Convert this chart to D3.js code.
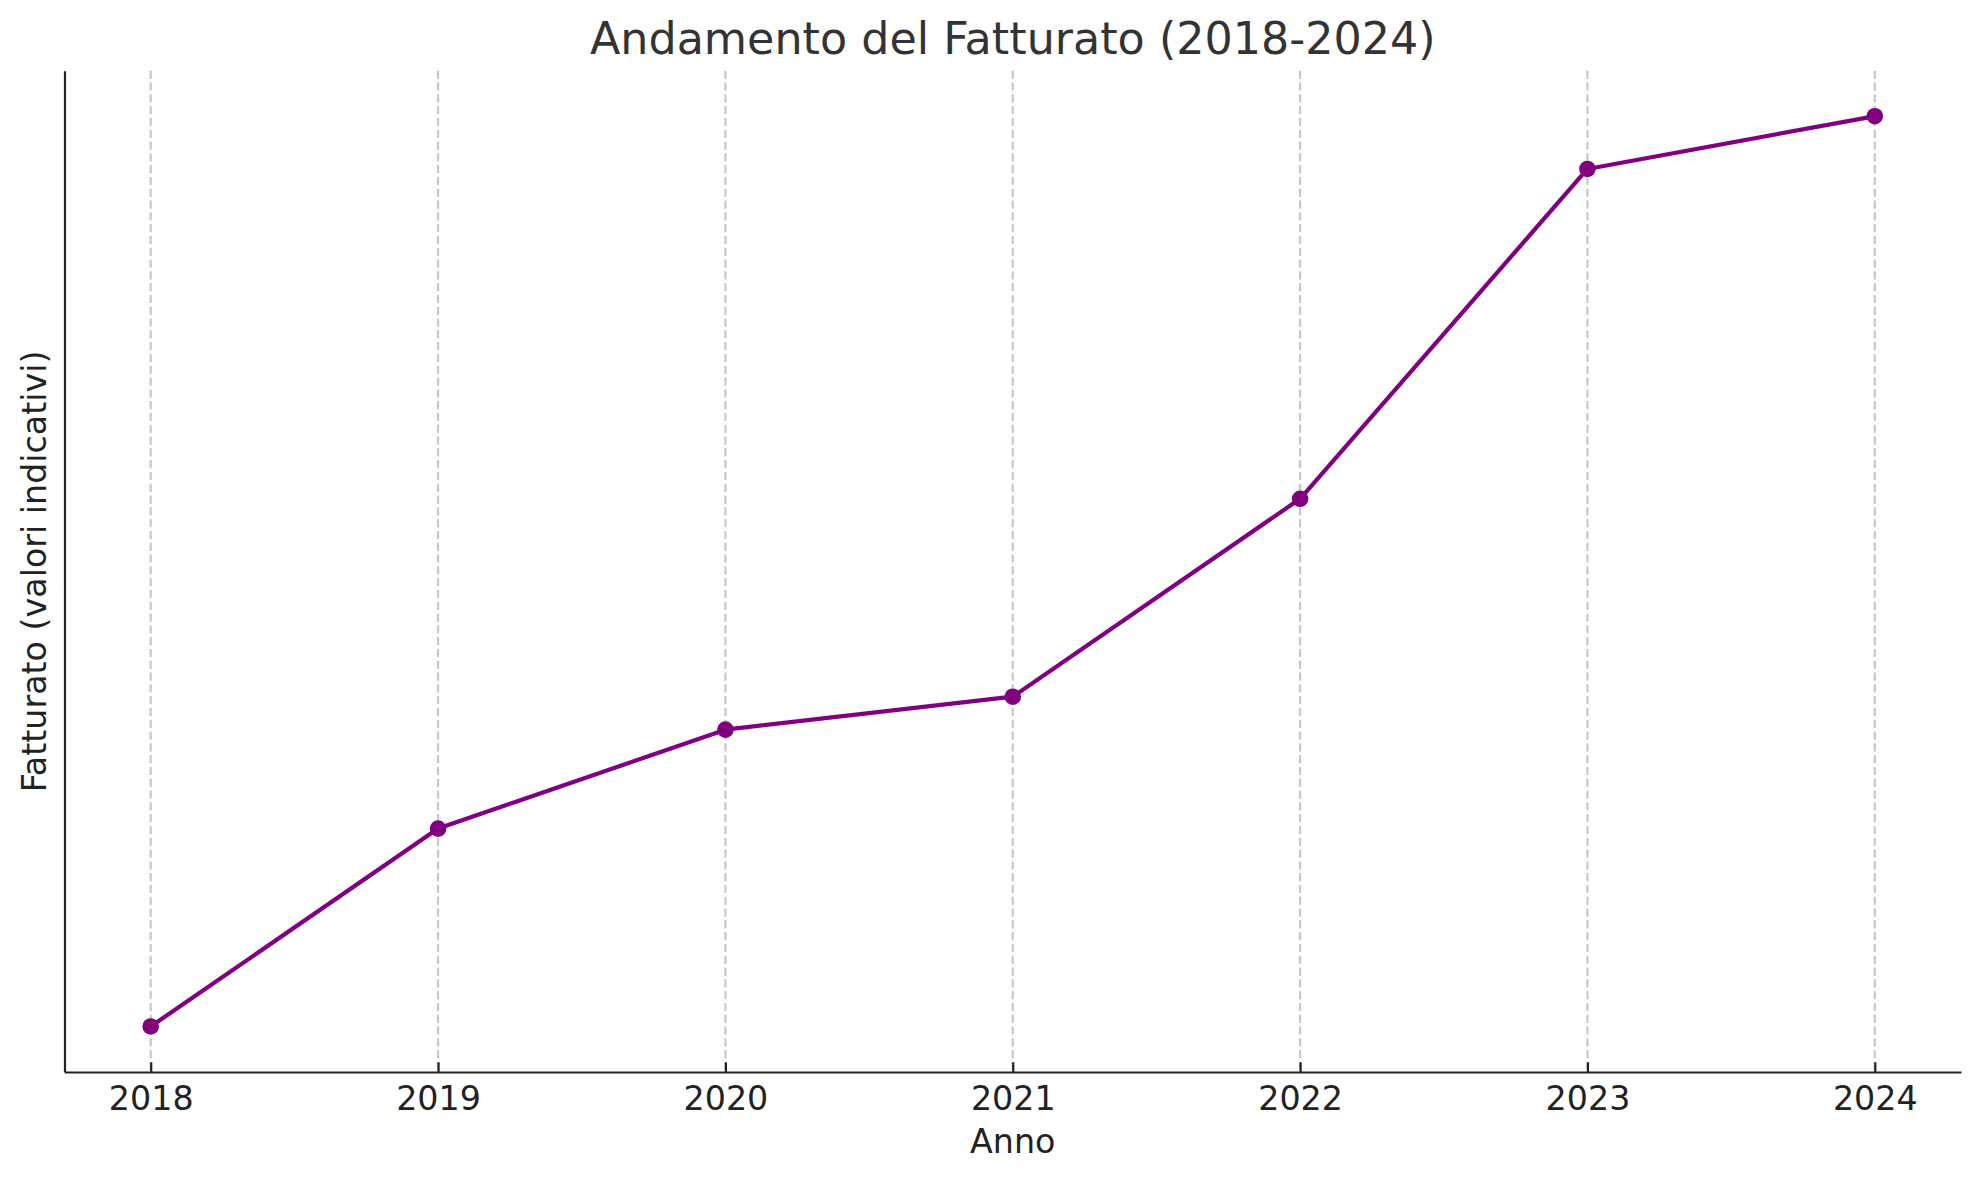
<!DOCTYPE html>
<html>
<head>
<meta charset="utf-8">
<script src="https://cdn.jsdelivr.net/npm/d3@7/dist/d3.min.js"></script>
<style>
  html, body { margin: 0; padding: 0; background: #ffffff; }
  svg { display: block; font-family: "DejaVu Sans", sans-serif; }
</style>
</head>
<body>
<svg id="chart" width="1980" height="1180"></svg>
<script>
// ---- Data ----
const years = [2018, 2019, 2020, 2021, 2022, 2023, 2024];
const revenue = [1.2, 1.5, 1.65, 1.7, 2.0, 2.5, 2.58];
const xTickLabels = ["2018", "2019", "2020", "2021", "2022", "2023", "2024"];
const titleText = "Andamento del Fatturato (2018-2024)";
const xLabelText = "Anno";
const yLabelText = "Fatturato (valori indicativi)";

// ---- Layout ----
const W = 1980, H = 1180;
const margin = { left: 64.5, right: 19, top: 70.7, bottom: 108 };
const x0 = margin.left, x1 = W - margin.right;
const y0 = margin.top, y1 = H - margin.bottom;

const svg = d3.select("#chart");

const xMin = d3.min(years), xMax = d3.max(years);
const xPad = (xMax - xMin) * 0.05;
const x = d3.scaleLinear().domain([xMin - xPad, xMax + xPad]).range([x0, x1]);

const vMin = d3.min(revenue), vMax = d3.max(revenue);
const vPad = (vMax - vMin) * 0.05;
const y = d3.scaleLinear().domain([vMin - vPad, vMax + vPad]).range([y1, y0]);

// grid (vertical, dashed)
svg.append("g")
  .selectAll("line")
  .data(years)
  .join("line")
  .attr("x1", d => x(d)).attr("x2", d => x(d))
  .attr("y1", y0).attr("y2", y1)
  .attr("stroke", "#b0b0b0")
  .attr("stroke-opacity", 0.7)
  .attr("stroke-width", 2.2)
  .attr("stroke-dasharray", "8.2,3.6");

// line
const line = d3.line().x((d, i) => x(years[i])).y(d => y(d));
svg.append("path")
  .datum(revenue)
  .attr("d", line)
  .attr("fill", "none")
  .attr("stroke", "#800080")
  .attr("stroke-width", 4.2)
  .attr("stroke-linejoin", "round")
  .attr("stroke-linecap", "square");

svg.append("g")
  .selectAll("circle")
  .data(revenue)
  .join("circle")
  .attr("cx", (d, i) => x(years[i]))
  .attr("cy", d => y(d))
  .attr("r", 8.3)
  .attr("fill", "#800080");

// x axis (ticks inward)
const xAxis = d3.axisBottom(x)
  .tickValues(years)
  .tickFormat((d, i) => xTickLabels[i])
  .tickSizeInner(-9.7)
  .tickSizeOuter(0)
  .tickPadding(14.4);
const gx = svg.append("g").attr("transform", `translate(0,${y1})`).call(xAxis);
gx.select(".domain").attr("stroke", "#222").attr("stroke-width", 2.2);
gx.selectAll(".tick line").attr("stroke", "#222").attr("stroke-width", 2.2);
gx.selectAll(".tick text")
  .attr("fill", "#222")
  .attr("font-size", "33.3px")
  .attr("font-family", "DejaVu Sans");

// left spine (no ticks)
const yAxis = d3.axisLeft(y).tickValues([]).tickSizeOuter(0);
const gy = svg.append("g").attr("transform", `translate(${x0},0)`).call(yAxis);
gy.select(".domain").attr("stroke", "#222").attr("stroke-width", 2.2);

// title
svg.append("text")
  .attr("x", (x0 + x1) / 2)
  .attr("y", 54)
  .attr("text-anchor", "middle")
  .attr("font-size", "44.4px")
  .attr("fill", "#333")
  .text(titleText);

// x label
svg.append("text")
  .attr("x", (x0 + x1) / 2)
  .attr("y", 1153)
  .attr("text-anchor", "middle")
  .attr("font-size", "33.3px")
  .attr("fill", "#222")
  .text(xLabelText);

// y label
svg.append("text")
  .attr("transform", `translate(45.5,${(y0 + y1) / 2}) rotate(-90)`)
  .attr("text-anchor", "middle")
  .attr("font-size", "33.3px")
  .attr("fill", "#222")
  .text(yLabelText);
</script>
</body>
</html>
